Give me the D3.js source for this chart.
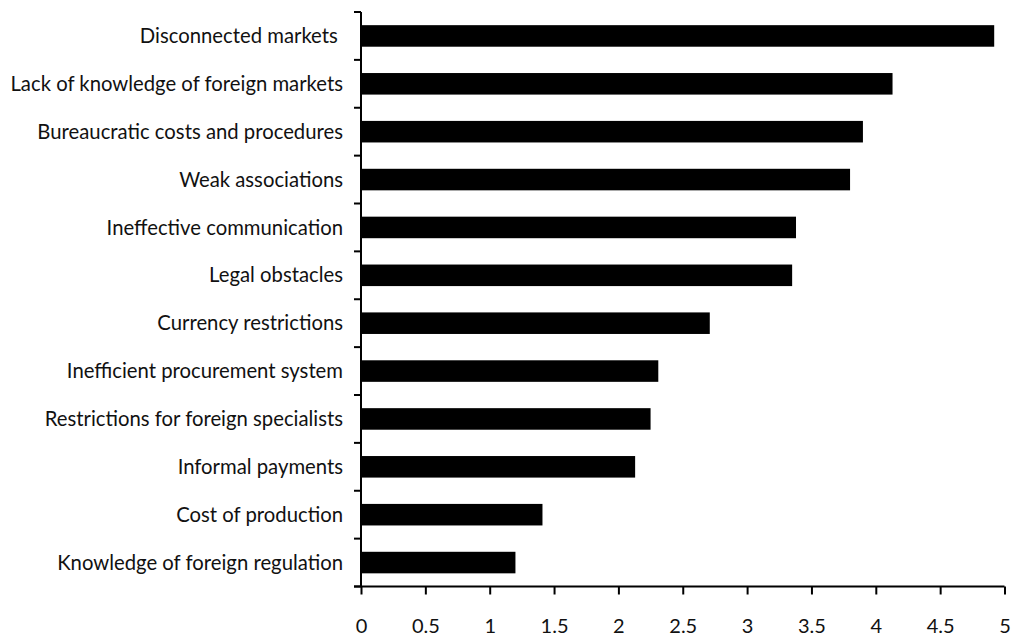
<!DOCTYPE html>
<html>
<head>
<meta charset="utf-8">
<script src="https://cdn.jsdelivr.net/npm/d3@7"></script>
<style>
  html, body { margin: 0; padding: 0; background: #fff; }
  svg { display: block; }
  text { font-family: Lato, "Open Sans", sans-serif; fill: #111; }
</style>
</head>
<body>
<svg id="chart" width="1011" height="637"></svg>
<script>
const categories = [
  "Disconnected markets ",
  "Lack of knowledge of foreign markets",
  "Bureaucratic costs and procedures",
  "Weak associations",
  "Ineffective communication",
  "Legal obstacles",
  "Currency restrictions",
  "Inefficient procurement system",
  "Restrictions for foreign specialists",
  "Informal payments",
  "Cost of production",
  "Knowledge of foreign regulation"
];
const values = [4.92, 4.13, 3.90, 3.80, 3.38, 3.35, 2.71, 2.31, 2.25, 2.13, 1.41, 1.20];
const xTicks = [0, 0.5, 1, 1.5, 2, 2.5, 3, 3.5, 4, 4.5, 5];
const xTickLabels = ["0", "0.5", "1", "1.5", "2", "2.5", "3", "3.5", "4", "4.5", "5"];

const svg = d3.select("#chart");
const pLeft = 361, pRight = 1004.5, pTop = 12, pBottom = 586.5;

const x = d3.scaleLinear().domain([0, 5]).range([pLeft, pRight]);
const yBand = d3.scaleBand().domain(categories).range([pTop, pBottom]).paddingInner(0.55).paddingOuter(0.275);
const yEdge = d3.scaleBand().domain(categories).range([pTop, pBottom]).padding(0);

// bars
svg.append("g").selectAll("rect").data(values).join("rect")
  .attr("x", x(0))
  .attr("y", (d, i) => yBand(categories[i]))
  .attr("width", d => x(d) - x(0))
  .attr("height", yBand.bandwidth())
  .attr("fill", "#000");

// x axis
const xAxis = d3.axisBottom(x)
  .tickValues(xTicks)
  .tickFormat((d, i) => xTickLabels[i])
  .tickSize(8)
  .tickSizeOuter(0);
const gx = svg.append("g").attr("transform", `translate(0,${pBottom})`).call(xAxis);
gx.select(".domain").attr("stroke", "#000").attr("stroke-width", 2).attr("d", `M${pLeft - 7},0H${pRight}`);
gx.selectAll(".tick line").attr("stroke", "#000").attr("stroke-width", 2);
gx.selectAll(".tick text")
  .attr("y", 46)
  .attr("dy", "0")
  .style("font-size", "20px")
  .style("font-family", "Lato, sans-serif")
  .attr("fill", "#111");

// y axis line
svg.append("line")
  .attr("x1", pLeft).attr("x2", pLeft)
  .attr("y1", pTop).attr("y2", pBottom)
  .attr("stroke", "#000").attr("stroke-width", 2);

// y boundary ticks
const edges = categories.map(c => yEdge(c)).concat([yEdge(categories[categories.length - 1]) + yEdge.bandwidth()]);
svg.append("g").selectAll("line").data(edges).join("line")
  .attr("x1", pLeft - 7).attr("x2", pLeft)
  .attr("y1", d => d).attr("y2", d => d)
  .attr("stroke", "#000").attr("stroke-width", 2);

// category labels
svg.append("g").selectAll("text").data(categories).join("text")
  .attr("x", 343)
  .attr("y", d => yBand(d) + yBand.bandwidth() / 2)
  .attr("dy", "0.35em")
  .attr("text-anchor", "end")
  .style("font-size", "20.3px")
  .style("white-space", "pre")
  .text(d => d);
</script>
</body>
</html>
